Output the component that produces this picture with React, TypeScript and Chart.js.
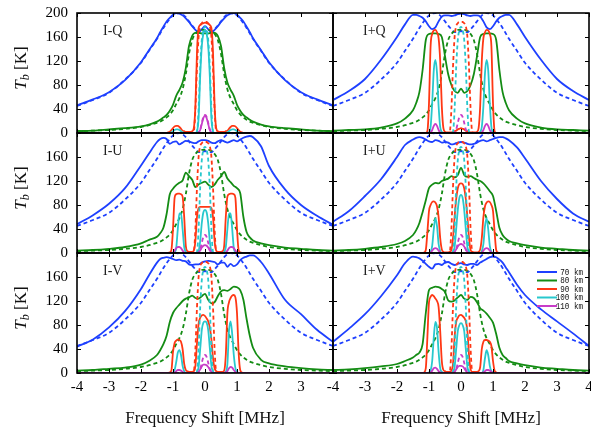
import React, { useEffect, useRef } from 'react';
import { Chart, registerables } from 'chart.js';

Chart.register(...registerables);

// ---------- x grids ----------
const XW = [-4, -3.5, -3, -2.5, -2, -1.75,
  -1.5, -1.4, -1.3, -1.2, -1.1, -1, -0.9, -0.8, -0.7, -0.6, -0.5, -0.4, -0.3, -0.2, -0.1,
  0,
  0.1, 0.2, 0.3, 0.4, 0.5, 0.6, 0.7, 0.8, 0.9, 1, 1.1, 1.2, 1.3, 1.4, 1.5,
  1.75, 2, 2.5, 3, 3.5, 4];

const XN = [-4,
  -1.2, -1.15, -1.1, -1.05, -1, -0.95, -0.9, -0.85, -0.8, -0.75, -0.7, -0.65, -0.6, -0.55, -0.5, -0.45, -0.4, -0.35, -0.3, -0.25, -0.2, -0.15, -0.1, -0.05,
  0,
  0.05, 0.1, 0.15, 0.2, 0.25, 0.3, 0.35, 0.4, 0.45, 0.5, 0.55, 0.6, 0.65, 0.7, 0.75, 0.8, 0.85, 0.9, 0.95, 1, 1.05, 1.1, 1.15, 1.2,
  4];

// ---------- reference (dashed) profiles ----------
const BLUE_REF = [45, 55, 67, 89, 117, 137,
  157, 166, 175, 183, 190, 196, 199, 200, 198, 193, 186, 179, 173, 168, 168,
  170,
  168, 168, 173, 179, 186, 193, 198, 200, 199, 196, 190, 183, 175, 166, 157,
  137, 117, 89, 67, 55, 45];
const GREEN_REF = [3, 4, 5, 7, 10, 13,
  17, 19, 22, 26, 31, 38, 48, 58, 73, 98, 132, 155, 165, 170, 172,
  172,
  172, 170, 165, 155, 132, 98, 73, 58, 48, 38, 31, 26, 22, 19, 17,
  13, 10, 7, 5, 4, 3];
const RED_REF = [0,
  0, 0, 0, 0, 0, 0, 0, 0, 0, 0, 0, 0, 0, 0, 0, 0, 0, 2, 40, 110, 160, 178, 183, 185,
  185,
  185, 183, 178, 160, 110, 40, 2, 0, 0, 0, 0, 0, 0, 0, 0, 0, 0, 0, 0, 0, 0, 0, 0, 0,
  0];
const CYAN_REF = [0,
  0, 0, 0, 0, 0, 0, 0, 0, 0, 0, 0, 0, 0, 0, 0, 0, 0, 0, 0, 2, 40, 110, 155, 172,
  177,
  172, 155, 110, 40, 2, 0, 0, 0, 0, 0, 0, 0, 0, 0, 0, 0, 0, 0, 0, 0, 0, 0, 0, 0,
  0];
const MAG_REF = [0,
  0, 0, 0, 0, 0, 0, 0, 0, 0, 0, 0, 0, 0, 0, 0, 0, 0, 0, 0, 0, 1, 6, 17, 27,
  30,
  27, 17, 6, 1, 0, 0, 0, 0, 0, 0, 0, 0, 0, 0, 0, 0, 0, 0, 0, 0, 0, 0, 0, 0,
  0];

// ---------- I-Q ----------
const BLUE_IQ = [46, 56, 68, 88, 118, 138,
  158, 168, 177, 186, 192, 197, 200, 199, 196, 191, 185, 178, 172, 168, 173,
  178,
  173, 168, 172, 178, 185, 191, 196, 199, 200, 197, 192, 186, 177, 168, 158,
  138, 118, 88, 68, 56, 46];
const GREEN_IQ = [3, 4, 6, 8, 11, 14,
  19, 22, 26, 30, 37, 47, 62, 72, 84, 108, 145, 162, 167, 167, 166,
  166,
  166, 167, 167, 162, 145, 108, 84, 72, 62, 47, 37, 30, 26, 22, 19,
  14, 11, 8, 6, 4, 3];
const RED_IQ = [0,
  0, 1, 2, 5, 8, 11, 12, 12, 10, 7, 4, 3, 2, 2, 2, 2, 3, 8, 45, 135, 175, 180, 182, 183,
  184,
  183, 182, 180, 175, 135, 45, 8, 3, 2, 2, 2, 2, 3, 4, 7, 10, 12, 12, 11, 8, 5, 2, 1, 0,
  0];
const CYAN_IQ = [0,
  0, 0, 0, 1, 3, 5, 6, 6, 5, 3, 1, 0, 0, 0, 0, 0, 0, 0, 0, 3, 25, 95, 145, 166,
  172,
  166, 145, 95, 25, 3, 0, 0, 0, 0, 0, 0, 0, 0, 1, 3, 5, 6, 6, 5, 3, 1, 0, 0, 0,
  0];
const MAG_IQ = [0,
  0, 0, 0, 0, 0, 0, 0, 0, 0, 0, 0, 0, 0, 0, 0, 0, 0, 0, 0, 0, 1, 5, 15, 25,
  29,
  25, 15, 5, 1, 0, 0, 0, 0, 0, 0, 0, 0, 0, 0, 0, 0, 0, 0, 0, 0, 0, 0, 0, 0,
  0];

// ---------- I+Q ----------
const BLUE_IPQ = [55, 70, 90, 122, 160, 181,
  197, 197, 195, 192, 186, 178, 173, 176, 186, 194, 196, 196, 195, 196, 198,
  199,
  198, 196, 195, 196, 196, 194, 186, 176, 173, 178, 186, 192, 195, 197, 197,
  181, 160, 122, 90, 70, 55];
const GREEN_IPQ = [4, 5, 6, 9, 16, 24,
  38, 50, 68, 105, 155, 165, 166, 166, 165, 160, 128, 98, 80, 70, 67,
  74,
  67, 70, 80, 98, 128, 160, 165, 166, 166, 165, 155, 105, 68, 50, 38,
  24, 16, 9, 6, 5, 4];
const RED_IPQ = [0,
  0, 0, 0, 3, 50, 145, 165, 171, 172, 168, 158, 120, 45, 8, 2, 1, 1, 1, 1, 2, 3, 4, 6, 7,
  8,
  7, 6, 4, 3, 2, 1, 1, 1, 1, 2, 8, 45, 120, 158, 168, 172, 171, 165, 145, 50, 3, 0, 0, 0,
  0];
const CYAN_IPQ = [0,
  0, 0, 0, 0, 1, 10, 50, 105, 122, 100, 45, 10, 2, 0, 0, 0, 0, 0, 0, 0, 0, 0, 0, 0,
  0,
  0, 0, 0, 0, 0, 0, 0, 0, 0, 0, 0, 2, 10, 45, 100, 122, 105, 50, 10, 1, 0, 0, 0, 0,
  0];
const MAG_IPQ = [0,
  0, 0, 0, 0, 0, 1, 5, 12, 15, 12, 5, 1, 0, 0, 0, 0, 0, 0, 0, 0, 0, 0, 0, 0,
  0,
  0, 0, 0, 0, 0, 0, 0, 0, 0, 0, 0, 0, 1, 5, 12, 15, 12, 5, 1, 0, 0, 0, 0, 0,
  0];

// ---------- I-U ----------
const BLUE_IMU = [48, 63, 82, 108, 146, 166,
  185, 190, 192, 190, 182, 185, 186, 181, 184, 187, 186, 184, 183, 186, 188,
  188,
  187, 184, 183, 186, 188, 186, 184, 186, 188, 186, 189, 192, 194, 195, 193,
  178, 145, 106, 80, 62, 47];
const GREEN_IMU = [4, 5, 7, 10, 16, 22,
  27, 33, 42, 65, 98, 107, 113, 117, 121, 134, 128, 122, 110, 114, 117,
  119,
  114, 110, 114, 122, 128, 135, 124, 118, 112, 108, 100, 60, 35, 26, 21,
  16, 13, 9, 7, 5, 4];
const RED_IMU = [0,
  0, 0, 1, 5, 40, 92, 98, 99, 99, 98, 94, 60, 12, 3, 2, 2, 2, 4, 20, 60, 75, 77, 77, 77,
  77,
  77, 77, 77, 75, 60, 20, 4, 2, 2, 2, 3, 12, 60, 94, 98, 99, 99, 98, 92, 40, 5, 1, 0, 0,
  0];
const CYAN_IMU = [0,
  0, 0, 0, 0, 0, 1, 8, 40, 66, 66, 40, 10, 2, 0, 0, 0, 0, 0, 0, 0, 3, 20, 50, 68,
  72,
  68, 50, 20, 3, 0, 0, 0, 0, 0, 0, 0, 2, 10, 40, 66, 66, 40, 8, 1, 0, 0, 0, 0, 0,
  0];
const MAG_IMU = [0,
  0, 0, 0, 0, 1, 4, 8, 10, 10, 8, 4, 1, 0, 0, 0, 0, 0, 0, 0, 0, 1, 4, 9, 12,
  13,
  12, 9, 4, 1, 0, 0, 0, 0, 0, 0, 0, 0, 1, 4, 8, 10, 10, 8, 4, 1, 0, 0, 0, 0,
  0];

// ---------- I+U ----------
const BLUE_IPU = [52, 70, 95, 123, 160, 180,
  189, 192, 193, 192, 189, 186, 185, 188, 187, 184, 185, 184, 181, 182, 184,
  185,
  184, 182, 181, 182, 184, 187, 188, 186, 188, 190, 192, 193, 193, 191, 188,
  176, 158, 120, 90, 66, 52];
const GREEN_IPU = [4, 5, 7, 10, 15, 20,
  30, 38, 50, 68, 88, 108, 114, 117, 116, 120, 122, 124, 128, 126, 130,
  142,
  130, 127, 128, 125, 122, 120, 116, 110, 103, 95, 70, 42, 30, 24, 20,
  16, 13, 9, 7, 5, 4];
const RED_IPU = [0,
  0, 1, 5, 35, 70, 80, 85, 86, 84, 78, 60, 25, 6, 2, 1, 1, 1, 2, 5, 25, 60, 90, 108, 115,
  116,
  115, 108, 90, 60, 25, 5, 2, 1, 1, 1, 2, 6, 25, 60, 78, 84, 86, 85, 80, 70, 35, 5, 1, 0,
  0];
const CYAN_IPU = [0,
  0, 0, 0, 0, 0, 2, 12, 40, 58, 45, 15, 3, 0, 0, 0, 0, 0, 0, 0, 2, 10, 40, 72, 92,
  97,
  92, 72, 40, 10, 2, 0, 0, 0, 0, 0, 0, 0, 3, 15, 45, 58, 40, 12, 2, 0, 0, 0, 0, 0,
  0];
const MAG_IPU = [0,
  0, 0, 0, 0, 0, 1, 4, 7, 8, 7, 4, 1, 0, 0, 0, 0, 0, 0, 0, 0, 2, 6, 11, 14,
  15,
  14, 11, 6, 2, 0, 0, 0, 0, 0, 0, 0, 0, 1, 4, 7, 8, 7, 4, 1, 0, 0, 0, 0, 0,
  0];

// ---------- I-V ----------
const BLUE_IMV = [44, 56, 76, 103, 140, 163,
  184, 190, 192, 193, 192, 190, 188, 189, 187, 186, 181, 180, 181, 181, 184,
  186,
  187, 186, 185, 181, 184, 184, 177, 182, 178, 181, 188, 192, 194, 196, 196,
  185, 166, 122, 98, 72, 52];
const GREEN_IMV = [4, 5, 7, 9, 14, 20,
  30, 38, 48, 62, 85, 100, 108, 114, 120, 124, 126, 129, 125, 124, 128,
  132,
  122, 116, 118, 128, 136, 138, 137, 140, 144, 143, 138, 122, 90, 62, 42,
  22, 16, 11, 8, 6, 5];
const RED_IMV = [0,
  0, 0, 1, 4, 35, 50, 54, 56, 55, 52, 40, 15, 5, 3, 2, 2, 2, 3, 12, 50, 82, 92, 96, 97,
  95,
  91, 86, 76, 56, 25, 8, 3, 2, 2, 2, 2, 4, 30, 100, 118, 125, 129, 130, 126, 100, 35, 5, 1, 0,
  0];
const CYAN_IMV = [0,
  0, 0, 0, 0, 1, 5, 18, 34, 38, 30, 12, 3, 0, 0, 0, 0, 0, 0, 0, 2, 10, 40, 72, 84,
  86,
  84, 72, 42, 12, 3, 0, 0, 0, 0, 0, 0, 0, 2, 15, 70, 86, 65, 30, 8, 2, 0, 0, 0, 0,
  0];
const MAG_IMV = [0,
  0, 0, 0, 0, 0, 1, 3, 5, 5, 4, 2, 0, 0, 0, 0, 0, 0, 0, 0, 0, 2, 6, 11, 14,
  14,
  13, 10, 6, 2, 0, 0, 0, 0, 0, 0, 0, 0, 1, 3, 8, 10, 9, 5, 2, 0, 0, 0, 0, 0,
  0];

// ---------- I+V ----------
const BLUE_IPV = [52, 74, 98, 128, 163, 183,
  194, 193, 191, 187, 182, 177, 174, 181, 182, 180, 184, 185, 182, 180, 182,
  183,
  181, 180, 182, 182, 180, 184, 187, 190, 193, 194, 193, 189, 184, 176, 168,
  147, 130, 106, 86, 66, 45];
const GREEN_IPV = [5, 6, 8, 11, 15, 20,
  26, 30, 34, 48, 100, 138, 142, 144, 143, 140, 135, 121, 119, 121, 126,
  130,
  124, 122, 127, 125, 118, 108, 104, 99, 92, 84, 65, 42, 30, 25, 20,
  16, 13, 9, 7, 5, 4];
const RED_IPV = [0,
  0, 1, 8, 60, 118, 127, 130, 128, 124, 120, 110, 70, 20, 5, 3, 2, 2, 2, 4, 15, 60, 85, 92, 96,
  97,
  95, 92, 86, 70, 30, 6, 2, 2, 2, 2, 3, 10, 40, 52, 55, 55, 54, 52, 45, 20, 4, 1, 0, 0,
  0];
const CYAN_IPV = [0,
  0, 0, 0, 0, 1, 4, 20, 60, 85, 75, 35, 8, 2, 0, 0, 0, 0, 0, 0, 2, 10, 40, 70, 80,
  83,
  80, 70, 40, 10, 2, 0, 0, 0, 0, 0, 0, 0, 0, 5, 25, 38, 30, 12, 3, 0, 0, 0, 0, 0,
  0];
const MAG_IPV = [0,
  0, 0, 0, 0, 0, 1, 4, 8, 9, 7, 3, 1, 0, 0, 0, 0, 0, 0, 0, 0, 2, 6, 10, 12,
  12,
  11, 8, 4, 1, 0, 0, 0, 0, 0, 0, 0, 0, 0, 1, 3, 5, 5, 4, 2, 0, 0, 0, 0, 0,
  0];

// ---------- labels / ticks ----------
const ALTITUDES = ['70 km', '80 km', '90 km', '100 km', '110 km'];
const COLORS = ['rgb(30,64,255)', 'rgb(20,140,20)', 'rgb(255,55,20)', 'rgb(40,200,205)', 'rgb(200,60,200)'];
const PANEL_LABELS = ['I-Q', 'I+Q', 'I-U', 'I+U', 'I-V', 'I+V'];
const X_TICKS = [-4, -3, -2, -1, 0, 1, 2, 3, 4];
const Y_TICKS = [0, 40, 80, 120, 160, 200];
const X_TITLE = 'Frequency Shift [MHz]';

const PANEL_SERIES = [
  [BLUE_IQ, GREEN_IQ, RED_IQ, CYAN_IQ, MAG_IQ],
  [BLUE_IPQ, GREEN_IPQ, RED_IPQ, CYAN_IPQ, MAG_IPQ],
  [BLUE_IMU, GREEN_IMU, RED_IMU, CYAN_IMU, MAG_IMU],
  [BLUE_IPU, GREEN_IPU, RED_IPU, CYAN_IPU, MAG_IPU],
  [BLUE_IMV, GREEN_IMV, RED_IMV, CYAN_IMV, MAG_IMV],
  [BLUE_IPV, GREEN_IPV, RED_IPV, CYAN_IPV, MAG_IPV],
];
const REF_SERIES = [BLUE_REF, GREEN_REF, RED_REF, CYAN_REF, MAG_REF];
const GRIDS = [XW, XW, XN, XN, XN];

const SERIF = '"Liberation Serif", "Times New Roman", serif';

function pts(xs: number[], ys: number[]) {
  return xs.map((x, i) => ({ x, y: ys[i] }));
}

const decor = {
  id: 'decor',
  afterDraw(chart: any, _args: any, opts: any) {
    const ctx = chart.ctx;
    const { left, top, right, bottom } = chart.chartArea;
    const xs = chart.scales.x;
    const ys = chart.scales.y;
    ctx.save();
    // inward ticks
    ctx.strokeStyle = '#000';
    ctx.lineWidth = 1;
    ctx.beginPath();
    X_TICKS.forEach((v) => {
      const px = Math.round(xs.getPixelForValue(v)) + 0.5;
      ctx.moveTo(px, bottom); ctx.lineTo(px, bottom - 4);
      ctx.moveTo(px, top); ctx.lineTo(px, top + 4);
    });
    Y_TICKS.forEach((v) => {
      const py = Math.round(ys.getPixelForValue(v)) + 0.5;
      ctx.moveTo(left, py); ctx.lineTo(left + 4, py);
      ctx.moveTo(right, py); ctx.lineTo(right - 4, py);
    });
    ctx.stroke();
    // frame
    ctx.lineWidth = 1.6;
    ctx.strokeRect(left, top, right - left, bottom - top);
    // panel label
    ctx.fillStyle = '#222';
    ctx.font = `14px ${SERIF}`;
    ctx.textAlign = 'left';
    ctx.textBaseline = 'alphabetic';
    ctx.fillText(opts.label, left + opts.labelDx, top + 22);
    // y title
    if (opts.yTitle) {
      const cy = (top + bottom) / 2 - 5;
      ctx.save();
      ctx.translate(22, cy);
      ctx.rotate(-Math.PI / 2);
      ctx.fillStyle = '#111';
      ctx.textBaseline = 'middle';
      ctx.font = `italic 17px ${SERIF}`;
      const wT = ctx.measureText('T').width;
      ctx.font = `italic 12px ${SERIF}`;
      const wb = ctx.measureText('b').width;
      ctx.font = `17px ${SERIF}`;
      const wK = ctx.measureText(' [K]').width;
      let x0 = -(wT + wb + wK) / 2;
      ctx.font = `italic 17px ${SERIF}`;
      ctx.fillText('T', x0, 0);
      x0 += wT;
      ctx.font = `italic 12px ${SERIF}`;
      ctx.fillText('b', x0, 4);
      x0 += wb;
      ctx.font = `17px ${SERIF}`;
      ctx.fillText(' [K]', x0, 0);
      ctx.restore();
    }
    // x title
    if (opts.xTitle) {
      ctx.fillStyle = '#111';
      ctx.font = `17px ${SERIF}`;
      ctx.textAlign = 'center';
      ctx.textBaseline = 'alphabetic';
      ctx.fillText(X_TITLE, (left + right) / 2, 423);
    }
    // legend
    if (opts.legend) {
      ALTITUDES.forEach((name, k) => {
        const y = top + 19 + k * 8.5;
        ctx.strokeStyle = COLORS[k];
        ctx.lineWidth = 2;
        ctx.beginPath();
        ctx.moveTo(right - 52, y);
        ctx.lineTo(right - 32, y);
        ctx.stroke();
        ctx.save();
        ctx.translate(right - 6, y);
        ctx.scale(0.8, 1);
        ctx.fillStyle = '#111';
        ctx.font = `9.5px "Liberation Mono", monospace`;
        ctx.textAlign = 'right';
        ctx.textBaseline = 'middle';
        ctx.fillText(name, 0, 0);
        ctx.restore();
      });
    }
    ctx.restore();
  },
};

function makeConfig(idx: number): any {
  const row = Math.floor(idx / 2);
  const col = idx % 2;
  const L = col === 0 ? 77 : 333;
  const R = L + 256;
  const T = 13 + 120 * row;
  const B = T + 120;
  const bottomRow = row === 2;
  const leftCol = col === 0;

  const datasets: any[] = [];
  for (let k = 0; k < 5; k++) {
    datasets.push({
      data: pts(GRIDS[k], PANEL_SERIES[idx][k]),
      borderColor: COLORS[k],
      borderWidth: 1.8,
      pointRadius: 0,
      fill: false,
      cubicInterpolationMode: 'monotone',
      order: 2 * (4 - k) + 1,
    });
    datasets.push({
      data: pts(GRIDS[k], REF_SERIES[k]),
      borderColor: COLORS[k],
      borderWidth: 1.8,
      borderDash: [4, 3],
      pointRadius: 0,
      fill: false,
      cubicInterpolationMode: 'monotone',
      order: 2 * (4 - k) + 2,
    });
  }

  return {
    type: 'line',
    data: { datasets },
    plugins: [decor],
    options: {
      responsive: false,
      animation: false,
      events: [],
      layout: {
        autoPadding: false,
        padding: {
          left: leftCol ? L - 40 : L,
          right: 591 - R,
          top: T,
          bottom: bottomRow ? 430 - B - 40 : 430 - B,
        },
      },
      plugins: {
        legend: { display: false },
        tooltip: { enabled: false },
        decor: {
          label: PANEL_LABELS[idx],
          labelDx: leftCol ? 26 : 30,
          yTitle: leftCol,
          xTitle: bottomRow,
          legend: idx === 5,
        },
      },
      scales: {
        x: {
          type: 'linear',
          min: -4,
          max: 4,
          display: bottomRow,
          grid: { display: false, drawTicks: false },
          border: { display: false },
          ticks: {
            stepSize: 1,
            autoSkip: false,
            maxRotation: 0,
            padding: 5,
            color: '#000',
            font: { family: SERIF, size: 15 },
            callback: (v: number) => (leftCol && v === 4 ? '' : String(v)),
          },
          afterFit: (s: any) => {
            s.height = bottomRow ? 40 : 0;
            s.paddingLeft = 0;
            s.paddingRight = 0;
          },
        },
        y: {
          type: 'linear',
          min: 0,
          max: 200,
          display: leftCol,
          grid: { display: false, drawTicks: false },
          border: { display: false },
          ticks: {
            stepSize: 40,
            padding: 9,
            color: '#000',
            font: { family: SERIF, size: 15 },
            callback: (v: number) => (row > 0 && v === 200 ? '' : String(v)),
          },
          afterFit: (s: any) => {
            s.width = leftCol ? 40 : 0;
            s.paddingTop = 0;
            s.paddingBottom = 0;
          },
        },
      },
    },
  };
}

export default function App() {
  const refs = useRef<(HTMLCanvasElement | null)[]>([]);
  useEffect(() => {
    const charts = PANEL_LABELS.map((_, i) => new Chart(refs.current[i] as HTMLCanvasElement, makeConfig(i)));
    return () => charts.forEach((c) => c.destroy());
  }, []);
  return (
    <div style={{ position: 'absolute', left: 0, top: 0, width: 591, height: 430, background: '#fff' }}>
      {PANEL_LABELS.map((l, i) => (
        <canvas
          key={l}
          ref={(el) => { refs.current[i] = el; }}
          width={591}
          height={430}
          style={{ position: 'absolute', left: 0, top: 0, width: 591, height: 430 }}
        />
      ))}
    </div>
  );
}
